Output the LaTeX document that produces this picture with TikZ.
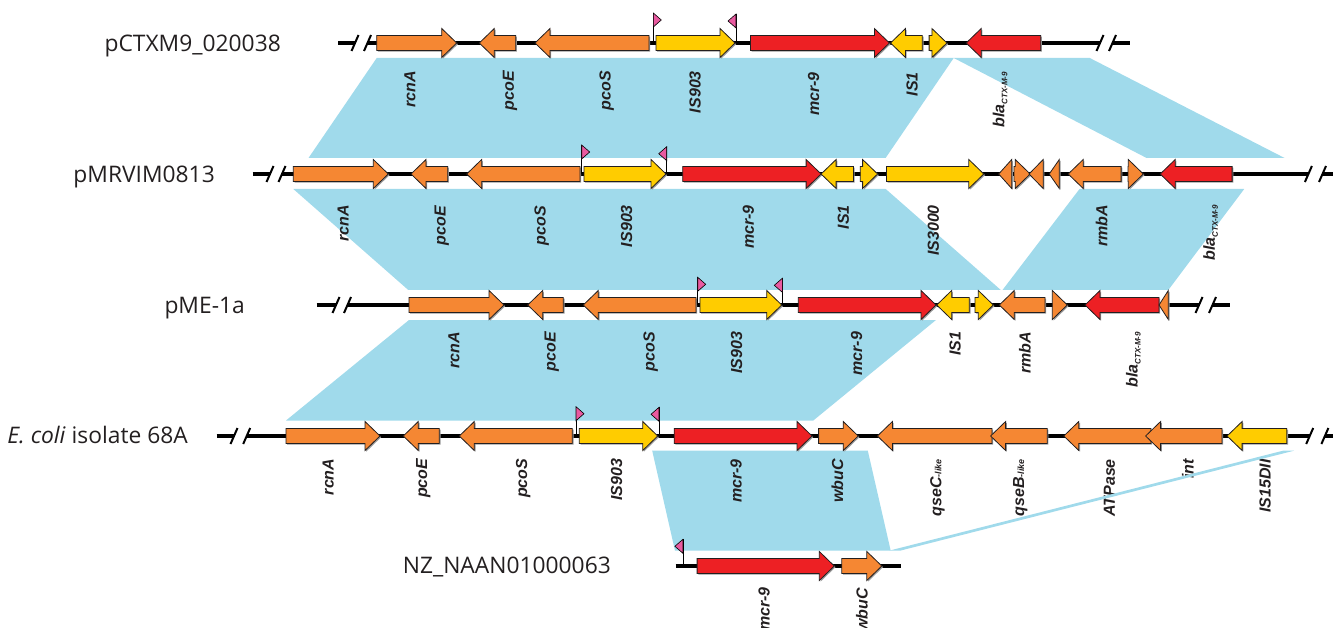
\documentclass[tikz,border=0pt]{standalone}
\usepackage{fontspec}
\setmainfont{Liberation Sans}
\newfontfamily\namefont{Open Sans}
\definecolor{gorange}{HTML}{F58733}
\definecolor{gyellow}{HTML}{FFCC00}
\definecolor{gred}{HTML}{ED2024}
\definecolor{bandblue}{HTML}{A0DAEB}
\definecolor{flagpink}{HTML}{E95AA0}
\definecolor{outl}{HTML}{231F20}
\definecolor{txt}{HTML}{231F20}
\definecolor{gshadow}{HTML}{9A9A9A}
\tikzset{
  genebox/.style={draw=outl, line width=0.8pt, line join=miter},
  backbone/.style={line width=3.6pt, black},
  brkline/.style={line width=2pt, black},
  band/.style={fill=bandblue, draw=none},
  glabel/.style={rotate=90, anchor=east, inner sep=0pt, text=txt,
    font=\fontsize{16}{16}\selectfont\bfseries\itshape},
  rowname/.style={anchor=base east, inner sep=0pt, text=txt,
    font=\namefont\fontsize{22.8}{22.8}\selectfont},
  flagpole/.style={line width=0.8pt, black},
  flagtri/.style={fill=flagpink, draw=black, line width=0.6pt, line join=miter},
}
% right-pointing gene: start, tip, y, colour
\newcommand\gR[4]{%
  \begin{scope}[shift={(1.2,1.2)}]
  \fill[gshadow] (#1,{#3-7.5}) -- ({#2-15},{#3-7.5}) -- ({#2-15},{#3-14.5}) -- (#2,#3) -- ({#2-15},{#3+14.5}) -- ({#2-15},{#3+7.5}) -- (#1,{#3+7.5}) -- cycle;
  \end{scope}
  \filldraw[genebox, fill=#4] (#1,{#3-7.5}) -- ({#2-15},{#3-7.5}) -- ({#2-15},{#3-14.5}) -- (#2,#3) -- ({#2-15},{#3+14.5}) -- ({#2-15},{#3+7.5}) -- (#1,{#3+7.5}) -- cycle;}
% left-pointing gene: tip, end, y, colour
\newcommand\gL[4]{%
  \begin{scope}[shift={(1.2,1.2)}]
  \fill[gshadow] (#2,{#3-7.5}) -- ({#1+15},{#3-7.5}) -- ({#1+15},{#3-14.5}) -- (#1,#3) -- ({#1+15},{#3+14.5}) -- ({#1+15},{#3+7.5}) -- (#2,{#3+7.5}) -- cycle;
  \end{scope}
  \filldraw[genebox, fill=#4] (#2,{#3-7.5}) -- ({#1+15},{#3-7.5}) -- ({#1+15},{#3-14.5}) -- (#1,#3) -- ({#1+15},{#3+14.5}) -- ({#1+15},{#3+7.5}) -- (#2,{#3+7.5}) -- cycle;}
% triangles: base, tip / tip, base
\newcommand\tR[4]{%
  \fill[gshadow] ({#1+1.2},{#3-14.5+1.2}) -- ({#2+1.2},{#3+1.2}) -- ({#1+1.2},{#3+14.5+1.2}) -- cycle;
  \filldraw[genebox, fill=#4] (#1,{#3-14.5}) -- (#2,#3) -- (#1,{#3+14.5}) -- cycle;}
\newcommand\tL[4]{%
  \fill[gshadow] ({#2+1.2},{#3-14.5+1.2}) -- ({#1+1.2},{#3+1.2}) -- ({#2+1.2},{#3+14.5+1.2}) -- cycle;
  \filldraw[genebox, fill=#4] (#2,{#3-14.5}) -- (#1,#3) -- (#2,{#3+14.5}) -- cycle;}
\newcommand\brkmark[2]{\draw[brkline] ({#1-3.5},{#2+8}) -- ({#1+3.5},{#2-8});}
\newcommand\flagRt[3]{%
  \draw[flagpole] (#1,#3) -- (#1,#2);
  \filldraw[flagtri] (#1,#2) -- ({#1+8},{#2+7}) -- (#1,{#2+14}) -- cycle;}
\newcommand\flagLt[3]{%
  \draw[flagpole] (#1,#3) -- (#1,#2);
  \filldraw[flagtri] (#1,#2) -- ({#1-8},{#2+7}) -- (#1,{#2+14}) -- cycle;}
\newcommand\blalab{bla\raisebox{-3pt}{\fontsize{8}{8}\selectfont CTX-M-9}}
\newcommand\likelab[1]{#1{\fontsize{9}{9}\selectfont -like}}
\begin{document}
\begin{tikzpicture}[x=1pt,y=-1pt]
\useasboundingbox (0,0) rectangle (1333,628);
% ---------- homology bands ----------
\fill[band] (376.7,58) -- (953.7,58) -- (885.6,158) -- (308.5,158) -- cycle;
\fill[band] (953.7,58) -- (1089.8,58) -- (1284.6,158) -- (1146.6,158) -- cycle;
\fill[band] (293.3,189) -- (885.7,189) -- (1000.8,290) -- (408.3,290) -- cycle;
\fill[band] (1079.5,189) -- (1244.2,189) -- (1168.3,290) -- (1002.5,290) -- cycle;
\fill[band] (409,320) -- (936,320) -- (813.3,420.5) -- (286,420.5) -- cycle;
\fill[band] (652.2,450.7) -- (867.8,450.7) -- (890.7,550.7) -- (675,550.7) -- cycle;
% ---------- backbones ----------
\draw[backbone] (338,43) -- (355,43); \draw[backbone] (367.5,43) -- (1100,43); \draw[backbone] (1112.5,43) -- (1130,43);
\brkmark{355}{43} \brkmark{367.5}{43} \brkmark{1100}{43} \brkmark{1112.5}{43}
\draw[backbone] (252.7,174) -- (270,174); \draw[backbone] (282,174) -- (1308.4,174); \draw[backbone] (1322.5,174) -- (1333,174);
\brkmark{270}{174} \brkmark{282}{174} \brkmark{1308.4}{174} \brkmark{1322.5}{174}
\draw[backbone] (316.7,305) -- (336,305); \draw[backbone] (347.5,305) -- (1199,305); \draw[backbone] (1212.5,305) -- (1230,305);
\brkmark{336}{305} \brkmark{347.5}{305} \brkmark{1199}{305} \brkmark{1212.5}{305}
\draw[backbone] (216.7,436) -- (234,436); \draw[backbone] (246.7,436) -- (1309.7,436); \draw[backbone] (1324.9,436) -- (1333,436);
\brkmark{234}{436} \brkmark{246.7}{436} \brkmark{1309.7}{436} \brkmark{1324.9}{436}
\draw[backbone] (675.7,566) -- (901.4,566);
% ---------- row 1 ----------
\gR{376.7}{456.7}{43}{gorange}
\gL{479.3}{515.7}{43}{gorange}
\gL{535}{649}{43}{gorange}
\gR{656}{735}{43}{gyellow}
\gR{750.5}{889.4}{43}{gred}
\gL{890.5}{922.3}{43}{gyellow}
\gR{929.1}{946.9}{43}{gyellow}
\gL{966.2}{1040.7}{43}{gred}
\flagRt{653.3}{13}{43}
\flagLt{736}{14}{43}
% ---------- row 2 ----------
\gR{293.3}{388.3}{174}{gorange}
\gL{411}{447.7}{174}{gorange}
\gL{466.7}{580}{174}{gorange}
\gR{584}{666}{174}{gyellow}
\gR{682.7}{821.1}{174}{gred}
\gL{821.1}{853.4}{174}{gyellow}
\gR{860.3}{877.6}{174}{gyellow}
\gR{886.5}{983.8}{174}{gyellow}
\tL{998.7}{1011.7}{174}{gorange}
\gR{1014}{1030.2}{174}{gorange}
\tL{1029}{1043.2}{174}{gorange}
\tL{1049.2}{1059.3}{174}{gorange}
\gL{1068.2}{1121.1}{174}{gorange}
\gR{1128}{1143.3}{174}{gorange}
\gL{1160.2}{1232.1}{174}{gred}
\flagRt{581.7}{145}{174}
\flagLt{666.7}{146.7}{174}
% ---------- row 3 ----------
\gR{409}{504}{305}{gorange}
\gL{527.7}{563.3}{305}{gorange}
\gL{583.3}{696}{305}{gorange}
\gR{700}{781.7}{305}{gyellow}
\gR{798.3}{936}{305}{gred}
\gL{936.7}{969.3}{305}{gyellow}
\gR{975}{993.3}{305}{gyellow}
\gL{999.3}{1045}{305}{gorange}
\tR{1052.3}{1067.3}{305}{gorange}
\gL{1085}{1159}{305}{gred}
\tL{1159}{1168.3}{305}{gorange}
\flagRt{697.7}{277.3}{305}
\flagLt{782.3}{278.3}{305}
% ---------- row 4 ----------
\gR{286}{380}{436}{gorange}
\gL{403.3}{439.3}{436}{gorange}
\gL{459.3}{572.3}{436}{gorange}
\gR{579.3}{657.7}{436}{gyellow}
\gR{674.2}{812}{436}{gred}
\gR{818.6}{858.2}{436}{gorange}
\gL{877.4}{991.9}{436}{gorange}
\gL{990.6}{1047.2}{436}{gorange}
\gL{1063.8}{1150.9}{436}{gorange}
\gL{1145.6}{1221.9}{436}{gorange}
\gL{1227.1}{1286.8}{436}{gyellow}
\flagRt{576}{406.7}{436}
\flagLt{659}{407.3}{436}
% ---------- row 5 ----------
\gR{697.1}{834.3}{566}{gred}
\gR{841.8}{881.8}{566}{gorange}
\flagLt{682.9}{539.3}{566}
% ---------- row names ----------
\node[rowname] (n1) at (281,51.7) {pCTXM9\_020038};
\node[rowname] (n2) at (215,182.3) {pMRVIM0813};
\node[rowname] (n3) at (245,313) {pME-1a};
\node[rowname] (n4) at (188,443.5) {\textit{E. coli} isolate 68A};
\node[rowname] (n5) at (611,573.3) {NZ\_NAAN01000063};
% ---------- gene labels ----------
\node[glabel] (a1) at (410,71) {rcnA};
\node[glabel] (a2) at (510,71) {pcoE};
\node[glabel] (a3) at (606.7,71) {pcoS};
\node[glabel] (a4) at (695,71) {IS903};
\node[glabel] (a5) at (813.7,72) {mcr-9};
\node[glabel] (a6) at (912,72) {IS1};
\node[glabel] (a7) at (1000,72) {\blalab};
\node[glabel] (b1) at (343.3,205) {rcnA};
\node[glabel] (b2) at (441.7,206) {pcoE};
\node[glabel] (b3) at (541.7,206) {pcoS};
\node[glabel] (b4) at (626.7,205) {IS903};
\node[glabel] (b5) at (748.4,205) {mcr-9};
\node[glabel] (b6) at (843.3,205) {IS1};
\node[glabel] (b7) at (933.3,205) {IS3000};
\node[glabel] (b8) at (1101.7,205) {rmbA};
\node[glabel] (b9) at (1210.7,205) {\blalab};
\node[glabel] (c1) at (454,331.7) {rcnA};
\node[glabel] (c2) at (551.7,331.7) {pcoE};
\node[glabel] (c3) at (650.7,331.7) {pcoS};
\node[glabel] (c4) at (736.7,331.7) {IS903};
\node[glabel] (c5) at (856.7,331.7) {mcr-9};
\node[glabel] (c6) at (955,331.7) {IS1};
\node[glabel] (c7) at (1025,331.7) {rmbA};
\node[glabel] (c8) at (1133.3,331.7) {\blalab};
\node[glabel] (d1) at (328.3,458.5) {rcnA};
\node[glabel] (d2) at (423.3,458.5) {pcoE};
\node[glabel] (d3) at (523.3,458.5) {pcoS};
\node[glabel] (d4) at (616.7,458.5) {IS903};
\node[glabel] (d5) at (736.2,459) {mcr-9};
\node[glabel] (d6) at (837.3,459) {wbuC};
\node[glabel] (d7) at (937.5,459) {\likelab{qseC}};
\node[glabel] (d8) at (1020.2,459) {\likelab{qseB}};
\node[glabel] (d9) at (1109.5,459) {ATPase};
\node[glabel] (d10) at (1187.9,459) {int};
\node[glabel] (d11) at (1265,459) {IS15DII};
\node[glabel] (e1) at (764,587) {mcr-9};
\node[glabel] (e2) at (862,588) {wbuC};
% ---------- thin homology sliver ----------
\fill[band] (889,550.7) -- (1283,450.7) -- (1294,450.7) -- (900,550.7) -- cycle;
\end{tikzpicture}
\end{document}
